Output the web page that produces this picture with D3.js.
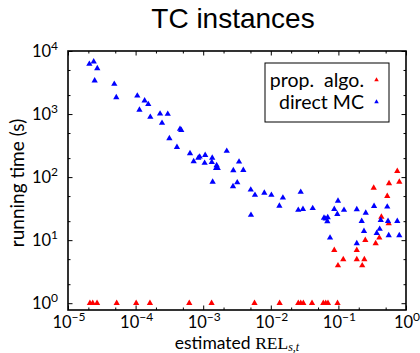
<!DOCTYPE html>
<html>
<head>
<meta charset="utf-8">
<script src="https://cdn.jsdelivr.net/npm/d3@7"></script>
<style>
  body { margin: 0; background: #fff; }
  svg { display: block; }
  text { font-family: Lato, "Open Sans", sans-serif; fill: #000; }
</style>
</head>
<body>
<svg id="chart" width="420" height="353"></svg>
<script>
// direct MC (blue)
const mcRel = [2.07e-5, 2.4e-5, 2.71e-5, 2.48e-5, 4.84e-5, 5.18e-5, 1.06e-4, 1.36e-4, 1.54e-4, 1.14e-4,
  1.65e-4, 2.30e-4, 2.99e-4, 2.46e-4, 4.54e-4, 4.74e-4, 3.16e-4, 4.09e-4, 6.38e-4, 8.47e-4,
  8.87e-4, 1.07e-3, 7.23e-4, 1.05e-3, 1.36e-3, 1.34e-3, 1.58e-3, 1.55e-3, 1.64e-3, 1.38e-3,
  2.23e-3, 2.79e-3, 3.19e-3, 2.76e-3, 3.39e-3, 3.92e-3, 5.05e-3, 5.83e-3, 5.09e-3, 8.02e-3,
  1.02e-2, 1.51e-2, 1.34e-2, 2.77e-2, 2.55e-2, 2.99e-2, 4.17e-2, 6.12e-2, 6.49e-2, 6.95e-2,
  6.86e-2, 7.52e-2, 9.86e-2, 8.69e-2, 9.64e-2, 0.121, 0.187, 0.254, 0.221, 0.239,
  0.187, 0.337, 0.369, 0.408, 0.423, 0.528, 0.542, 0.555, 0.743, 0.796]
const mcTime = [6220, 6760, 5310, 3380, 2990, 1840, 1950, 1630, 1430, 1160,
  896, 1010, 1000, 720, 578, 557, 411, 299, 238, 202,
  210, 223, 177, 167, 202, 173, 153, 139, 139, 84,
  259, 128, 82, 71, 175, 129, 63, 52, 25, 56,
  52, 47, 35, 58, 30, 31, 32, 22.6, 21.8, 22.9,
  19.8, 10.9, 42, 31, 25.9, 30, 30.7, 27.1, 20, 13.9,
  8.87, 34.7, 12.9, 15, 20.8, 33.8, 20, 11.9, 20, 11.9]

// proposed algorithm (red)
const algRel = [2.11e-5, 2.32e-5, 2.69e-5, 5.25e-5, 1.02e-4, 1.63e-4, 6.22e-4, 1.33e-3, 5.74e-3,
  1.35e-2, 2.55e-2, 2.77e-2, 3.03e-2, 4.07e-2, 5.98e-2, 6.49e-2, 7.01e-2, 9.71e-2,
  0.333, 0.561, 0.743, 0.796, 0.528, 0.432, 0.555, 0.403, 0.356, 0.250,
  0.0869, 0.187, 0.118, 0.187, 0.242, 0.0986, 0.225]
const algTime = [1, 1, 1, 1, 1, 1, 1, 1, 1,
  1, 1, 1, 1, 1, 1, 1, 1, 1,
  67.6, 79.4, 124, 84, 49.9, 23.4, 18.4, 10.9, 8.87, 10,
  6.93, 6.93, 4.94, 4.94, 4.94, 3.96, 3.96]

const xTickExps = [-5, -4, -3, -2, -1, 0]
const yTickExps = [0, 1, 2, 3, 4]
const legendNames = ["prop.  algo.", "direct MC"]
const colors = ["#ff0000", "#0000ff"]

const svg = d3.select("#chart")
const L = 68, R = 406, T = 51, B = 310

const x = d3.scaleLog().domain([1e-5, 1]).range([L, R])
const y = d3.scaleLog().domain([0.78, 1e4]).range([B, T])

const xMajor = xTickExps.map(e => Math.pow(10, e))
const yMajor = yTickExps.map(e => Math.pow(10, e))
const xMinor = [], yMinor = []
xTickExps.slice(0, -1).forEach(e => [2, 5].forEach(m => xMinor.push(m * Math.pow(10, e))))
;[-1].concat(yTickExps.slice(0, -1)).forEach(e => [2, 5].forEach(m => {
  const v = m * Math.pow(10, e)
  if (v >= 0.78 && v <= 1e4) yMinor.push(v)
}))

function ticks(axis, scale, vals, size, tr) {
  const g = svg.append("g").attr("transform", tr)
    .call(axis(scale).tickValues(vals).tickSize(-size).tickFormat(""))
  g.select(".domain").remove()
  g.selectAll("line").attr("stroke", "#000").attr("stroke-width", 1)
}
ticks(d3.axisBottom, x, xMajor, 4.5, `translate(0,${B})`)
ticks(d3.axisBottom, x, xMinor, 2.5, `translate(0,${B})`)
ticks(d3.axisTop, x, xMajor, 4.5, `translate(0,${T})`)
ticks(d3.axisTop, x, xMinor, 2.5, `translate(0,${T})`)
ticks(d3.axisLeft, y, yMajor, 4.5, `translate(${L},0)`)
ticks(d3.axisLeft, y, yMinor, 2.5, `translate(${L},0)`)
ticks(d3.axisRight, y, yMajor, 4.5, `translate(${R},0)`)
ticks(d3.axisRight, y, yMinor, 2.5, `translate(${R},0)`)

// tick labels 10^k
function powLabel(sel, e) {
  sel.append("tspan").text("10")
  sel.append("tspan").attr("font-size", 12).attr("dy", -7)
    .text(e < 0 ? "\u2212" + (-e) : e)
}
xTickExps.forEach(e => {
  const t = svg.append("text").attr("x", x(Math.pow(10, e)) + 1).attr("y", 328)
    .attr("text-anchor", "middle").attr("font-size", 16.5)
  powLabel(t, e)
})
yTickExps.forEach(e => {
  const t = svg.append("text").attr("x", 58).attr("y", y(Math.pow(10, e)) + 6)
    .attr("text-anchor", "end").attr("font-size", 16.5)
  powLabel(t, e)
})

// frame
svg.append("rect").attr("x", L).attr("y", T).attr("width", R - L).attr("height", B - T)
  .attr("fill", "none").attr("stroke", "#000").attr("stroke-width", 1.6)

const tri = d3.symbol().type(d3.symbolTriangle).size(17)

svg.append("g").selectAll("path").data(d3.zip(algRel, algTime)).join("path")
  .attr("d", tri).attr("fill", colors[0])
  .attr("transform", d => `translate(${x(d[0])},${y(d[1])})`)

svg.append("g").selectAll("path").data(d3.zip(mcRel, mcTime)).join("path")
  .attr("d", tri).attr("fill", colors[1])
  .attr("transform", d => `translate(${x(d[0])},${y(d[1])})`)

// title
svg.append("text").attr("x", 233).attr("y", 28).attr("text-anchor", "middle")
  .style("font-family", "'Liberation Sans', Arial, sans-serif").attr("font-size", 28)
  .text("TC instances")

// axis labels
svg.append("text").attr("transform", "translate(24,183) rotate(-90)")
  .attr("text-anchor", "middle").attr("font-size", 19).text("running time (s)")

const xl = svg.append("text").attr("x", 237).attr("y", 348.5).attr("text-anchor", "middle").attr("font-size", 17.5)
xl.append("tspan").text("estimated ")
xl.append("tspan").style("font-family", "'Liberation Serif', serif").text("REL")
xl.append("tspan").style("font-family", "'Liberation Serif', serif").style("font-style", "italic")
  .attr("font-size", 12).attr("dy", 2.5).text("s,t")

// legend
const lg = svg.append("g")
lg.append("rect").attr("x", 265).attr("y", 63).attr("width", 124).attr("height", 59)
  .attr("fill", "#fff").attr("stroke", "#000").attr("stroke-width", 1)
legendNames.forEach((n, i) => {
  lg.append("text").attr("x", 364).attr("y", 87 + i * 21.5).attr("text-anchor", "end")
    .style("white-space", "pre").attr("font-size", 19.5).text(n)
  lg.append("path").attr("d", d3.symbol().type(d3.symbolTriangle).size(9))
    .attr("fill", colors[i]).attr("transform", `translate(376.5,${80 + i * 22})`)
})
</script>
</body>
</html>
